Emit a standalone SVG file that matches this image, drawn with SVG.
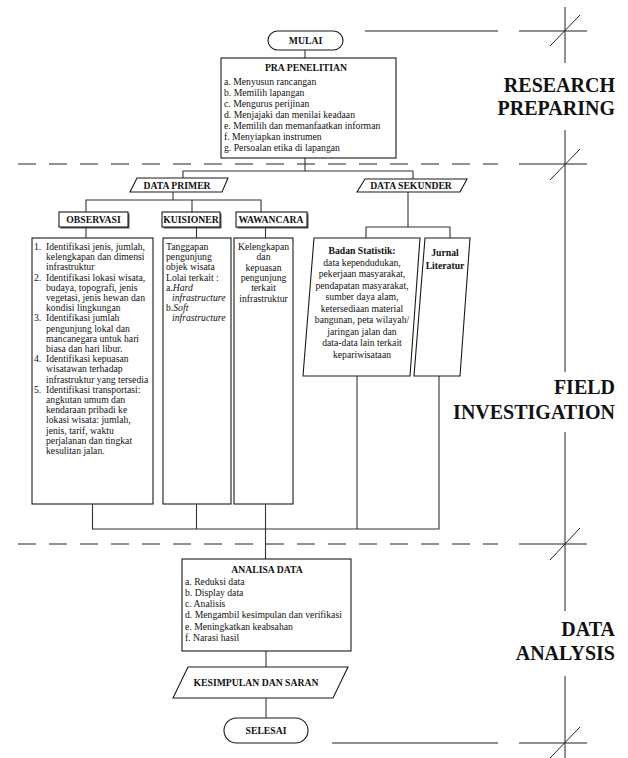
<svg xmlns="http://www.w3.org/2000/svg" width="628" height="758" viewBox="0 0 628 758">
<style>
text{font-family:"Liberation Serif","Times New Roman",serif;font-size:9.7px;fill:#111}
.b{font-weight:bold}
.c{text-anchor:middle}
.big{font-size:20px;font-weight:bold;text-anchor:end}
.box{fill:#fff;stroke:#1a1a1a;stroke-width:1.1}
.sh{fill:#555;stroke:none}
.con{fill:none;stroke:#333;stroke-width:1.1}
.ln{fill:none;stroke:#222;stroke-width:1}
.dash{fill:none;stroke:#222;stroke-width:1;stroke-dasharray:18 13}
</style>
<rect width="628" height="758" fill="#fff"/>

<g id="section-marks">
<line class="ln" x1="365" y1="31" x2="498" y2="31"/>
<line class="ln" x1="519" y1="31" x2="587" y2="31"/>
<line class="dash" x1="18" y1="164" x2="498" y2="164"/>
<line class="ln" x1="519" y1="164" x2="587" y2="164"/>
<line class="dash" x1="18" y1="544" x2="498" y2="544"/>
<line class="ln" x1="519" y1="544" x2="587" y2="544"/>
<line class="ln" x1="332" y1="743" x2="498" y2="743"/>
<line class="ln" x1="519" y1="743" x2="587" y2="743"/>
<line class="ln" x1="565" y1="7" x2="565" y2="63"/>
<line class="ln" x1="565" y1="130" x2="565" y2="372"/>
<line class="ln" x1="565" y1="432" x2="565" y2="611"/>
<line class="ln" x1="565" y1="676" x2="565" y2="758"/>
<line class="ln" x1="550" y1="46" x2="580" y2="15"/>
<line class="ln" x1="550" y1="180" x2="580" y2="149"/>
<line class="ln" x1="550" y1="560" x2="580" y2="528"/>
<line class="ln" x1="550" y1="758" x2="580" y2="727"/>
<text class="big" x="615" y="92">RESEARCH</text>
<text class="big" x="615" y="115">PREPARING</text>
<text class="big" x="615" y="394">FIELD</text>
<text class="big" x="615" y="419">INVESTIGATION</text>
<text class="big" x="615" y="636">DATA</text>
<text class="big" x="615" y="660">ANALYSIS</text>
</g>

<g id="connectors">
<path class="con" d="M305,50 V58"/>
<path class="con" d="M305,158 V171"/>
<path class="con" d="M183,178 V171 H413 V179"/>
<path class="con" d="M173,192 V200"/>
<path class="con" d="M86,212 V200 H261 V212"/>
<path class="con" d="M192,200 V212"/>
<path class="con" d="M86,227 V238"/>
<path class="con" d="M196.5,227 V238"/>
<path class="con" d="M265.5,227 V238"/>
<path class="con" d="M408,192 V227"/>
<path class="con" d="M366,238 V227 H450 V238"/>
<path class="con" d="M92.5,504 V529 H439 V376"/>
<path class="con" d="M196.5,504 V529"/>
<path class="con" d="M357,376 V529"/>
<path class="con" d="M265.5,504 V559"/>
<path class="con" d="M266,651 V667"/>
<path class="con" d="M266,698 V718"/>
</g>

<g id="mulai">
<rect class="box" x="268" y="31" width="75" height="19" rx="9.5"/>
<text class="b c" x="305.5" y="44">MULAI</text>
</g>

<g id="pra-penelitian">
<rect class="box" x="221" y="58" width="175" height="100"/>
<text class="b c" x="306" y="71">PRA PENELITIAN</text>
<text x="224" y="84.5">a. Menyusun rancangan</text>
<text x="224" y="95.5">b. Memilih lapangan</text>
<text x="224" y="106.5">c. Mengurus perijinan</text>
<text x="224" y="117.5">d. Menjajaki dan menilai keadaan</text>
<text x="224" y="128.5">e. Memilih dan memanfaatkan informan</text>
<text x="224" y="139.5">f. Menyiapkan instrumen</text>
<text x="224" y="150.5">g. Persoalan etika di lapangan</text>
</g>

<g id="data-primer">
<polygon class="box" points="137,178 228,178 222,192 130,192"/>
<text class="b c" x="177" y="188.5">DATA PRIMER</text>
</g>

<g id="data-sekunder">
<polygon class="box" points="365,179 467,179 460,192 357,192"/>
<text class="b c" x="411" y="189">DATA SEKUNDER</text>
</g>

<g id="observasi">
<rect class="sh" x="60.5" y="213.5" width="69" height="15"/>
<rect class="box" x="59" y="212" width="69" height="15"/>
<text class="b c" x="93.5" y="223.3">OBSERVASI</text>
</g>

<g id="kuisioner">
<rect class="sh" x="163.5" y="213.5" width="58" height="15"/>
<rect class="box" x="162" y="212" width="58" height="15"/>
<text class="b c" x="191" y="223.3">KUISIONER</text>
</g>

<g id="wawancara">
<rect class="sh" x="237.5" y="213.5" width="71" height="15"/>
<rect class="box" x="236" y="212" width="71" height="15"/>
<text class="b c" x="271" y="223.3">WAWANCARA</text>
</g>

<g id="observasi-detail">
<rect class="box" x="32" y="238" width="121" height="266"/>
<text x="34" y="250">1.</text><text x="46" y="250">Identifikasi jenis, jumlah,</text>
<text x="46" y="260.2">kelengkapan dan dimensi</text>
<text x="46" y="270.4">infrastruktur</text>
<text x="34" y="280.6">2.</text><text x="46" y="280.6">Identifikasi lokasi wisata,</text>
<text x="46" y="290.8">budaya, topografi, jenis</text>
<text x="46" y="301">vegetasi, jenis hewan dan</text>
<text x="46" y="311.2">kondisi lingkungan</text>
<text x="34" y="321.4">3.</text><text x="46" y="321.4">Identifikasi jumlah</text>
<text x="46" y="331.6">pengunjung lokal dan</text>
<text x="46" y="341.8">mancanegara untuk hari</text>
<text x="46" y="352">biasa dan hari libur.</text>
<text x="34" y="362.2">4.</text><text x="46" y="362.2">Identifikasi kepuasan</text>
<text x="46" y="372.4">wisatawan terhadap</text>
<text x="46" y="382.6">infrastruktur yang tersedia</text>
<text x="34" y="392.8">5.</text><text x="46" y="392.8">Identifikasi transportasi:</text>
<text x="46" y="403">angkutan umum dan</text>
<text x="46" y="413.2">kendaraan pribadi ke</text>
<text x="46" y="423.4">lokasi wisata: jumlah,</text>
<text x="46" y="433.6">jenis, tarif, waktu</text>
<text x="46" y="443.8">perjalanan dan tingkat</text>
<text x="46" y="454">kesulitan jalan.</text>
</g>

<g id="kuisioner-detail">
<rect class="box" x="163" y="238" width="68" height="266"/>
<text x="166" y="250">Tanggapan</text>
<text x="166" y="260.2">pengunjung</text>
<text x="166" y="270.4">objek wisata</text>
<text x="166" y="280.6">Lolai terkait :</text>
<text x="166" y="290.8">a.<tspan font-style="italic">Hard</tspan></text>
<text x="172" y="301" font-style="italic">infrastructure</text>
<text x="166" y="311.2">b.<tspan font-style="italic">Soft</tspan></text>
<text x="172" y="321.4" font-style="italic">infrastructure</text>
</g>

<g id="wawancara-detail">
<rect class="box" x="234" y="238" width="59" height="266"/>
<text class="c" x="263.5" y="250">Kelengkapan</text>
<text class="c" x="263.5" y="260.3">dan</text>
<text class="c" x="263.5" y="270.6">kepuasan</text>
<text class="c" x="263.5" y="280.9">pengunjung</text>
<text class="c" x="263.5" y="291.2">terkait</text>
<text class="c" x="263.5" y="301.5">infrastruktur</text>
</g>

<g id="badan-statistik">
<polygon class="box" points="314,238 420,238 410,376 303,376"/>
<text class="b c" x="362" y="254">Badan Statistik:</text>
<text class="c" x="362" y="265.5">data kependudukan,</text>
<text class="c" x="362" y="277">pekerjaan masyarakat,</text>
<text class="c" x="362" y="288.5">pendapatan masyarakat,</text>
<text class="c" x="362" y="300">sumber daya alam,</text>
<text class="c" x="362" y="311.5">ketersediaan material</text>
<text class="c" x="362" y="323">bangunan, peta wilayah/</text>
<text class="c" x="362" y="334.5">jaringan jalan dan</text>
<text class="c" x="362" y="346">data-data lain  terkait</text>
<text class="c" x="362" y="357.5">kepariwisataan</text>
</g>

<g id="jurnal-literatur">
<polygon class="box" points="425,238 470,238 460,376 414,376"/>
<text class="b c" x="445" y="255.5">Jurnal</text>
<text class="b c" x="445" y="268.5">Literatur</text>
</g>

<g id="analisa-data">
<rect class="box" x="182" y="559" width="169" height="92"/>
<text class="b c" x="267" y="573">ANALISA DATA</text>
<text x="185" y="584.5">a. Reduksi data</text>
<text x="185" y="595.8">b. Display data</text>
<text x="185" y="607.1">c. Analisis</text>
<text x="185" y="618.4">d. Mengambil kesimpulan dan verifikasi</text>
<text x="185" y="629.7">e. Meningkatkan keabsahan</text>
<text x="185" y="641">f. Narasi hasil</text>
</g>

<g id="kesimpulan">
<polygon class="box" points="188,667 348,667 333,698 173,698"/>
<text class="b c" x="256" y="686">KESIMPULAN DAN SARAN</text>
</g>

<g id="selesai">
<rect class="box" x="224" y="718" width="84" height="25" rx="12.5"/>
<text class="b c" x="266" y="734">SELESAI</text>
</g>
</svg>
